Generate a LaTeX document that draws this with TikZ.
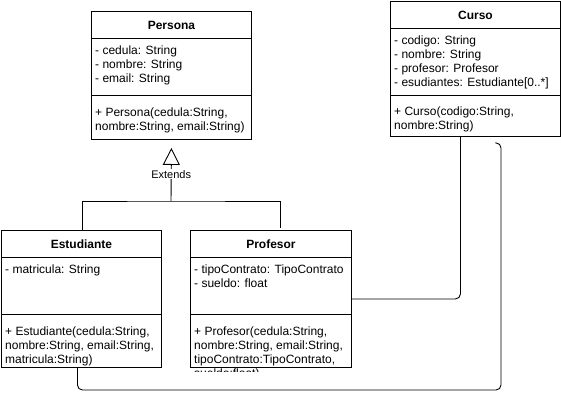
\documentclass[tikz,border=0pt]{standalone}
\usepackage{fontspec}
\setmainfont{Liberation Sans}
\usetikzlibrary{positioning}
\usetikzlibrary{arrows.meta}

\tikzset{
  umlbox/.style={draw,line width=0.9pt,anchor=north west,inner sep=0pt},
  umltitle/.style={font=\fontsize{12}{14}\selectfont\bfseries},
  members/.style={anchor=north west,align=left,inner sep=0pt,font=\fontsize{12}{14}\selectfont},
  conn/.style={line width=0.9pt,rounded corners=5pt},
  extends/.style={line width=0.9pt,-{Triangle[open,length=17pt,width=17pt]}},
}

\begin{document}
\begin{tikzpicture}
    \useasboundingbox (0,0) rectangle (561pt,392pt);

    % class boxes
    \node[umlbox,minimum width=160pt,minimum height=128pt] (persona) at (91pt,381pt) {};
    \node[umlbox,minimum width=170pt,minimum height=135pt] (curso) at (390pt,391pt) {};
    \node[umlbox,minimum width=160pt,minimum height=137pt] (estudiante) at (1pt,162pt) {};
    \node[umlbox,minimum width=161pt,minimum height=137pt] (profesor) at (190pt,162pt) {};

    % section lines
    \draw[line width=0.9pt] ([yshift=-27pt]persona.north west) -- ([yshift=-27pt]persona.north east);
    \draw[line width=0.9pt] ([yshift=-84pt]persona.north west) -- ([yshift=-84pt]persona.north east);
    \draw[line width=0.9pt] ([yshift=-27pt]curso.north west) -- ([yshift=-27pt]curso.north east);
    \draw[line width=0.9pt] ([yshift=-94pt]curso.north west) -- ([yshift=-94pt]curso.north east);
    \draw[line width=0.9pt] ([yshift=-27pt]estudiante.north west) -- ([yshift=-27pt]estudiante.north east);
    \draw[line width=0.9pt] ([yshift=-84pt]estudiante.north west) -- ([yshift=-84pt]estudiante.north east);
    \draw[line width=0.9pt] ([yshift=-27pt]profesor.north west) -- ([yshift=-27pt]profesor.north east);
    \draw[line width=0.9pt] ([yshift=-84pt]profesor.north west) -- ([yshift=-84pt]profesor.north east);

    % titles
    \node[umltitle] (personaName) at ([yshift=-14.5pt]persona.north) {Persona};
    \node[umltitle] (cursoName) at ([yshift=-14.5pt]curso.north) {Curso};
    \node[umltitle] (estudianteName) at ([yshift=-14.5pt]estudiante.north) {Estudiante};
    \node[umltitle] (profesorName) at ([yshift=-14.5pt]profesor.north) {Profesor};

    % attributes
    \node[members,below right=35pt and 4pt of persona.north west] (personaAttr)
        {- cedula: String\\- nombre: String\\- email: String};
    \node[members,below right=35pt and 4pt of curso.north west] (cursoAttr)
        {- codigo: String\\- nombre: String\\- profesor: Profesor\\- esudiantes: Estudiante[0..*]};
    \node[members,below right=35pt and 4pt of estudiante.north west] (estudianteAttr)
        {- matricula: String};
    \node[members,below right=35pt and 4pt of profesor.north west] (profesorAttr)
        {- tipoContrato: TipoContrato\\- sueldo: float};

    % methods
    \node[members,below right=97pt and 4pt of persona.north west] (personaOps)
        {+ Persona(cedula:String,\\nombre:String, email:String)};
    \node[members,below right=106pt and 4pt of curso.north west] (cursoOps)
        {+ Curso(codigo:String,\\nombre:String)};
    \node[members,below right=97pt and 4pt of estudiante.north west] (estudianteOps)
        {+ Estudiante(cedula:String,\\nombre:String, email:String,\\matricula:String)};
    \begin{scope}
        \clip (profesor.north west) rectangle ([yshift=-3.5pt]profesor.south east);
        \node[members,below right=97pt and 4pt of profesor.north west] (profesorOps)
            {+ Profesor(cedula:String,\\nombre:String, email:String,\\tipoContrato:TipoContrato,\\sueldo:float)};
    \end{scope}

    % connector end points
    \coordinate (extTip) at ([yshift=-8pt]persona.south);
    \coordinate (junction) at (171pt,191pt);
    \coordinate (estTop) at ([xshift=1pt]estudiante.north);
    \coordinate (profTop) at ([xshift=9.5pt,yshift=2pt]profesor.north);
    \coordinate (estBottom) at ([xshift=-4pt]estudiante.south);
    \coordinate (cursoIn) at ([xshift=-15pt]curso.south);
    \coordinate (loop) at (501pt,2pt);
    \coordinate (hook) at ([xshift=20pt,yshift=-6pt]curso.south);

    % inheritance
    \draw[extends] (junction) -- node[fill=white,inner sep=1pt,font=\fontsize{11}{13}\selectfont] (extLabel) {Extends} (extTip);
    \draw[line width=0.9pt] (estTop) |- (junction) -| (profTop);

    % associations
    \draw[conn] (profesor.east) -| (cursoIn);
    \draw[conn] (estBottom) |- (loop) |- (hook);
\end{tikzpicture}
\end{document}
